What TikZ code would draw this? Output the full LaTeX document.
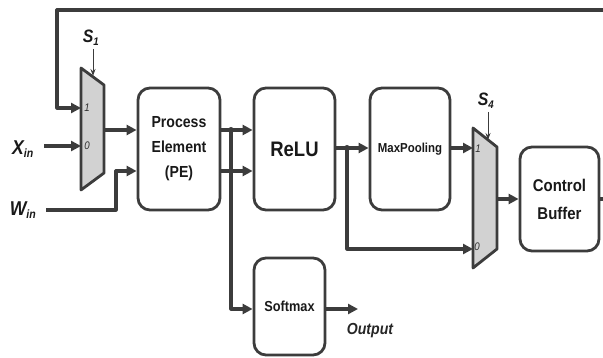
\documentclass[tikz,border=0pt]{standalone}
\usepackage{fontspec}
\setmainfont{Liberation Sans}
\newfontfamily\narrowsf[FakeStretch=0.88]{Liberation Sans}
\usetikzlibrary{arrows.meta}
\definecolor{wire}{HTML}{3C3C3C}
\definecolor{muxfill}{HTML}{D2D2D2}
\begin{document}
\begin{tikzpicture}[x=1pt,y=-1pt,line join=round]
\tikzstyle{block}=[draw=wire,line width=2.8pt,rounded corners=12pt,align=center,inner sep=0pt,text=black!90]
\tikzstyle{bus}=[draw=wire,line width=3.2pt,-{Triangle[length=10pt,width=10pt]}]
\tikzstyle{sel}=[draw=wire,line width=1pt,-{Stealth[length=7pt,width=5pt]}]
\tikzstyle{mux}=[draw=wire,fill=muxfill,line width=2.8pt]
\tikzstyle{pin}=[font=\narrowsf\itshape\fontsize{11}{11}\selectfont,text=wire!80!black,inner sep=0pt]
\tikzstyle{io}=[font=\narrowsf\bfseries\itshape\fontsize{20}{20}\selectfont,inner sep=0pt,text=black!90]
\useasboundingbox (0,0) rectangle (603,358);
% blocks
\node[block,minimum width=82pt,minimum height=122pt,font=\narrowsf\bfseries\fontsize{16}{25}\selectfont] (PE) at (179,149) {Process\\Element\\(PE)};
\node[block,minimum width=81pt,minimum height=122pt,font=\narrowsf\bfseries\fontsize{21}{21}\selectfont] (relu) at (294.5,149) {ReLU};
\node[block,minimum width=80pt,minimum height=122pt,font=\narrowsf\bfseries\fontsize{13}{13}\selectfont] (pool) at (410,149) {MaxPooling};
\node[block,minimum width=71pt,minimum height=97pt,font=\narrowsf\bfseries\fontsize{14.5}{14.5}\selectfont] (soft) at (289.5,306.5) {Softmax};
\node[block,minimum width=79pt,minimum height=104pt,font=\narrowsf\bfseries\fontsize{17}{28}\selectfont] (buf) at (559.5,199) {Control\\Buffer};
% multiplexers
\draw[mux] (81,68) -- (104,85) -- (104,173) -- (81,190) -- cycle;
\draw[mux] (473,128) -- (497,147) -- (497,249) -- (473,268) -- cycle;
\coordinate (m1a) at (81,108);
\coordinate (m1b) at (81,146);
\coordinate (m1o) at (104,130);
\coordinate (m1s) at (93,76);
\coordinate (m4a) at (473,148);
\coordinate (m4b) at (473,249);
\coordinate (m4o) at (497,199);
\coordinate (m4s) at (488,140);
\node[pin] at (87,108) {1};
\node[pin] at (87,146) {0};
\node[pin] at (478,149) {1};
\node[pin] at (477,247) {0};
% labels
\node[io] (xin) at (23,149) {X\textsubscript{\fontsize{12}{12}\selectfont in}};
\node[io] (win) at (23,210) {W\textsubscript{\fontsize{12}{12}\selectfont in}};
\node[io,font=\narrowsf\bfseries\itshape\fontsize{18}{18}\selectfont] (s1) at (91,38) {S\textsubscript{\fontsize{11}{11}\selectfont 1}};
\node[io,font=\narrowsf\bfseries\itshape\fontsize{18}{18}\selectfont] (s4) at (486,101) {S\textsubscript{\fontsize{11}{11}\selectfont 4}};
\node[font=\narrowsf\bfseries\itshape\fontsize{16}{16}\selectfont,inner sep=0pt,text=black!85] (out) at (370,331) {Output};
\coordinate (outend) at (358,309);
% select lines
\draw[sel] (s1.south -| m1s) ++(0,3) -- (m1s);
\draw[sel] (s4.south -| m4s) ++(0,3) -- (m4s);
% data paths
\draw[bus] (xin.east) ++(10,-3) -- (m1b);
\coordinate (wbend) at (116,210);
\draw[bus] (win.east) ++(10,0) -- (wbend) -- (116,171) -- (PE.west |- 0,171);
\draw[bus] (m1o) -- (PE.west |- m1o);
\draw[bus] (PE.east |- 0,130) -- (relu.west |- 0,130);
\draw[bus] (PE.east |- 0,171) -- (relu.west |- 0,171);
\coordinate (tap1) at (231,130);
\draw[bus] (tap1) -- (231,309) -- (soft.west |- 0,309);
\draw[bus] (soft.east |- outend) -- (outend);
\draw[bus] (relu.east |- 0,148) -- (pool.west |- 0,148);
\coordinate (tap2) at (347,148);
\draw[bus] (tap2) -- (347 ,249) -- (m4b);
\draw[bus] (pool.east |- m4a) -- (m4a);
\draw[bus] (m4o) -- (buf.west |- m4o);
% feedback loop
\draw[bus] (buf.east) -- (607,199) -- (607,10) -- (57,10) -- (57,108) -- (m1a);
\foreach \p in {tap1,tap2}
	\fill[wire] (\p) circle (3pt);
\end{tikzpicture}
\end{document}
